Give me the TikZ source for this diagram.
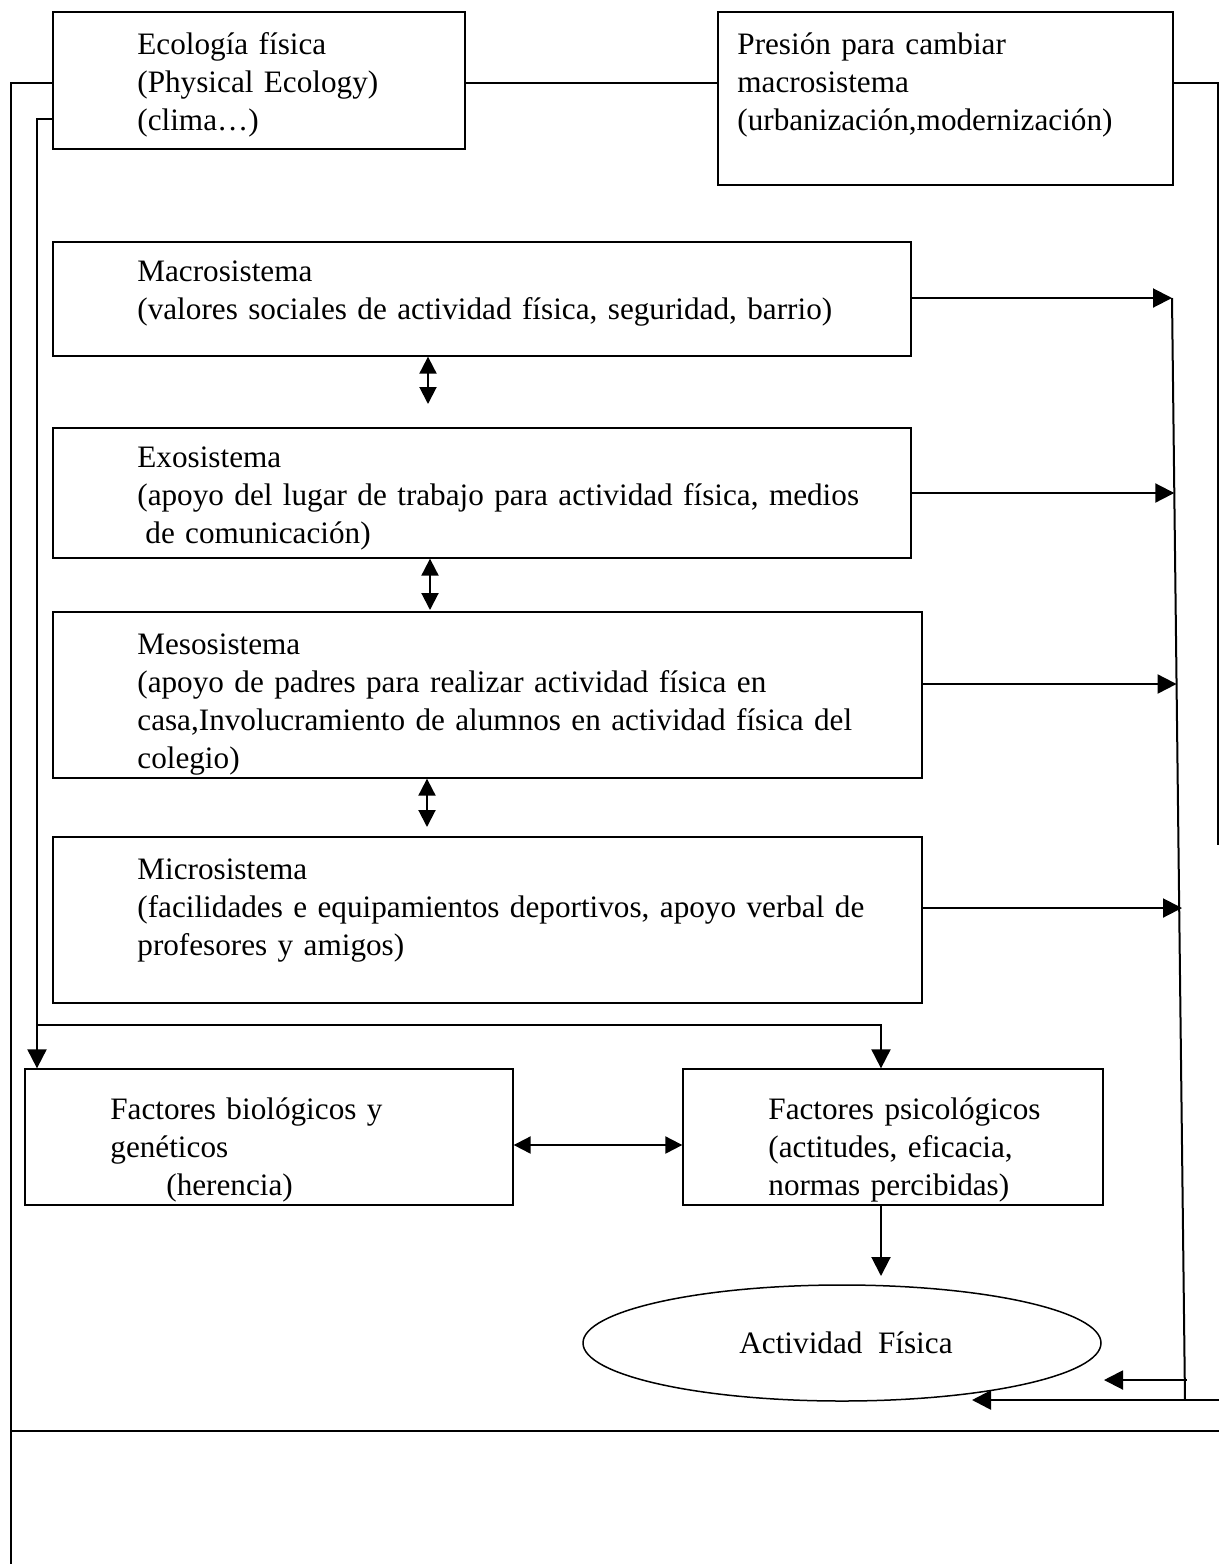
\documentclass[tikz,border=0pt]{standalone}
\usepackage{fontspec}
\setmainfont{Liberation Serif}
\usetikzlibrary{arrows.meta,shapes.geometric}

\begin{document}
\begin{tikzpicture}[x=0.5pt,y=-0.5pt,
  box/.style={draw,line width=0.65pt,rectangle,inner sep=0pt},
  txt/.style={inner sep=0pt,anchor=base west,text width=430pt,align=left,
    font=\fontsize{15.6pt}{19pt}\selectfont},
  wire/.style={line width=1pt},
  arr/.style={wire,-{Triangle[length=9.5pt,width=9.5pt]}},
  darr/.style={wire,{Triangle[length=8.5pt,width=8.5pt]}-{Triangle[length=8.5pt,width=8.5pt]}}]

\useasboundingbox (0,0) rectangle (1219,1564);

% boxes
\node[box,minimum width=206pt,minimum height=68.5pt] (eco) at (259,80.5) {};
\node[box,minimum width=227.5pt,minimum height=86.5pt] (pres) at (945.5,98.5) {};
\node[box,minimum width=429pt,minimum height=57pt] (macro) at (482,299) {};
\node[box,minimum width=429pt,minimum height=65pt] (exo) at (482,493) {};
\node[box,minimum width=434.5pt,minimum height=83pt] (meso) at (487.5,695) {};
\node[box,minimum width=434.5pt,minimum height=83pt] (micro) at (487.5,920) {};
\node[box,minimum width=244pt,minimum height=68pt] (bio) at (269,1137) {};
\node[box,minimum width=210pt,minimum height=68pt] (psy) at (893,1137) {};
\node[draw,line width=0.75pt,ellipse,inner sep=0pt,minimum width=259pt,minimum height=58pt,
  font=\fontsize{15.6pt}{19pt}\selectfont] (act) at (842,1343) {\hspace*{4pt}Actividad\ \ Física};

% texts inside the boxes
\node[txt] (eco-t) at (137,54) {Ecología física\\(Physical Ecology)\\(clima…)};
\node[txt] (pres-t) at (737,54) {Presión para cambiar\\macrosistema\\(urbanización,modernización)};
\node[txt] (macro-t) at (137,281) {Macrosistema\\(valores sociales de actividad física, seguridad, barrio)};
\node[txt] (exo-t) at (137,467) {Exosistema\\(apoyo del lugar de trabajo para actividad física, medios\\\hspace*{4pt}de comunicación)};
\node[txt] (meso-t) at (137,654) {Mesosistema\\(apoyo de padres para realizar actividad física en\\casa,Involucramiento de alumnos en actividad física del\\colegio)};
\node[txt] (micro-t) at (137,879) {Microsistema\\(facilidades e equipamientos deportivos, apoyo verbal de\\profesores y amigos)};
\node[txt] (bio-t) at (110,1119) {Factores biológicos y\\genéticos\\\hspace*{28pt}(herencia)};
\node[txt] (psy-t) at (768,1119) {Factores psicológicos\\(actitudes, eficacia,\\normas percibidas)};

% free ends of the connectors
\coordinate (oTL) at (11,83);
\coordinate (oBL) at (11,1564);
\coordinate (iTL) at (37,119);
\coordinate (hL) at (37,1025);
\coordinate (hR) at (881,1025);
\coordinate (oTR) at (1218,83);
\coordinate (oRB) at (1218,845);
\coordinate (r1) at (1172,298);
\coordinate (r2) at (1174.3,493);
\coordinate (r3) at (1176.6,684);
\coordinate (r4) at (1182,908);
\coordinate (rB) at (1185,1400);
\coordinate (a1s) at (1187,1380);
\coordinate (a1e) at (1104,1380);
\coordinate (a2s) at (1219,1400);
\coordinate (a2e) at (972,1400);
\coordinate (bL) at (11,1431);
\coordinate (bR) at (1219,1431);
\coordinate (d1) at (428,404);
\coordinate (d2) at (430,610);
\coordinate (d3) at (427,827);
\coordinate (dh) at (0,1145);
\coordinate (pe) at (881,1276);

% left-hand connectors
\draw[wire] (eco.west |- oTL) -- (oTL) -- (oBL);
\draw[arr] (eco.west |- iTL) -- (iTL) -- (iTL |- bio.north);
\draw[arr] (hL) -- (hR) -- (hR |- psy.north);

% top connectors
\draw[wire] (eco.east |- oTL) -- (pres.west |- oTL);
\draw[wire] (pres.east |- oTR) -- (oTR) -- (oRB);

% arrows from the systems to the right-hand line
\draw[arr] (macro.east |- r1) -- (r1);
\draw[arr] (exo.east |- r2) -- (r2);
\draw[arr] (meso.east |- r3) -- (r3);
\draw[arr] (micro.east |- r4) -- (r4);
\draw[wire] (r1) -- (rB);

% arrows towards the activity
\draw[arr] (a1s) -- (a1e);
\draw[arr,line width=1.3pt] (a2s) -- (a2e);
\draw[wire] (bL) -- (bR);

% links between the systems
\draw[darr] (d1 |- macro.south) -- (d1);
\draw[darr] (d2 |- exo.south) -- (d2);
\draw[darr] (d3 |- meso.south) -- (d3);
\draw[darr] (bio.east |- dh) -- (psy.west |- dh);
\draw[arr] (pe |- psy.south) -- (pe);

\end{tikzpicture}
\end{document}
